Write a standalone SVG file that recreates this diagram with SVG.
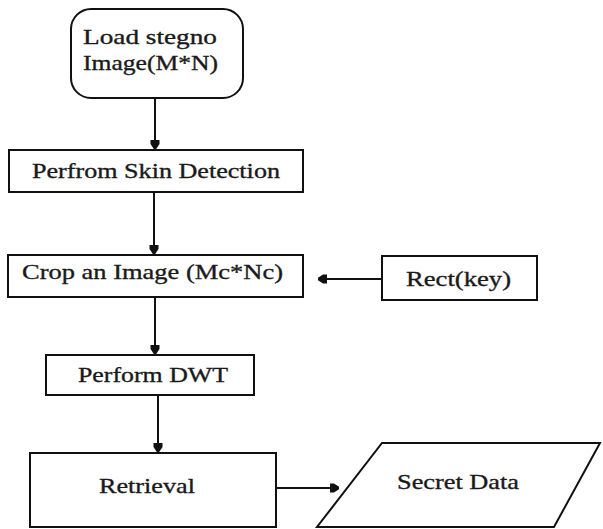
<svg xmlns="http://www.w3.org/2000/svg" width="603" height="529" viewBox="0 0 603 529">
  <style>
    .box { fill: #ffffff; stroke: #111111; stroke-width: 2; }
    .lbl { font-family: "Liberation Serif", "Times New Roman", serif; font-size: 22px; fill: #1a1a1a; stroke: #1a1a1a; stroke-width: 0.35; }
    .conn { stroke: #111111; stroke-width: 2; fill: none; marker-end: url(#arrow); }
  </style>
  <defs>
    <marker id="arrow" markerUnits="userSpaceOnUse" markerWidth="12" markerHeight="12" refX="9" refY="0" viewBox="0 -6 10 12" orient="auto">
      <path d="M0,-4.5 L4,-4.5 L9,-1.2 L9,1.2 L4,4.5 L0,4.5 Z" fill="#111111"/>
    </marker>
  </defs>
  <rect width="603" height="529" fill="#ffffff"/>

  <g id="connectors">
    <line class="conn" x1="155" y1="98" x2="155" y2="149"/>
    <line class="conn" x1="154" y1="192" x2="154" y2="254"/>
    <line class="conn" x1="382" y1="279" x2="318" y2="279"/>
    <line class="conn" x1="155" y1="297" x2="155" y2="354"/>
    <line class="conn" x1="158" y1="395" x2="158" y2="452"/>
    <line class="conn" x1="276" y1="488" x2="339" y2="488"/>
  </g>

  <g id="load-image">
    <rect class="box" x="71" y="9" width="172" height="89" rx="20" ry="20"/>
    <text class="lbl" x="83" y="44" textLength="134" lengthAdjust="spacingAndGlyphs">Load stegno</text>
    <text class="lbl" x="83" y="70" textLength="135" lengthAdjust="spacingAndGlyphs">Image(M*N)</text>
  </g>

  <g id="skin-detection">
    <rect class="box" x="9" y="150" width="294" height="42"/>
    <text class="lbl" x="32" y="178" textLength="248" lengthAdjust="spacingAndGlyphs">Perfrom Skin Detection</text>
  </g>

  <g id="crop-image">
    <rect class="box" x="8" y="255" width="295" height="42"/>
    <text class="lbl" x="22" y="279" textLength="261" lengthAdjust="spacingAndGlyphs">Crop an Image (Mc*Nc)</text>
  </g>

  <g id="rect-key">
    <rect class="box" x="382" y="256" width="155" height="44"/>
    <text class="lbl" x="406" y="286" textLength="105" lengthAdjust="spacingAndGlyphs">Rect(key)</text>
  </g>

  <g id="perform-dwt">
    <rect class="box" x="46" y="355" width="208" height="40"/>
    <text class="lbl" x="78" y="382" textLength="150" lengthAdjust="spacingAndGlyphs">Perform DWT</text>
  </g>

  <g id="retrieval">
    <rect class="box" x="30" y="453" width="246" height="74"/>
    <text class="lbl" x="99" y="493" textLength="96" lengthAdjust="spacingAndGlyphs">Retrieval</text>
  </g>

  <g id="secret-data">
    <polygon class="box" points="382,443 600,443 554,527 317,527"/>
    <text class="lbl" x="397" y="489" textLength="122" lengthAdjust="spacingAndGlyphs">Secret Data</text>
  </g>
</svg>
